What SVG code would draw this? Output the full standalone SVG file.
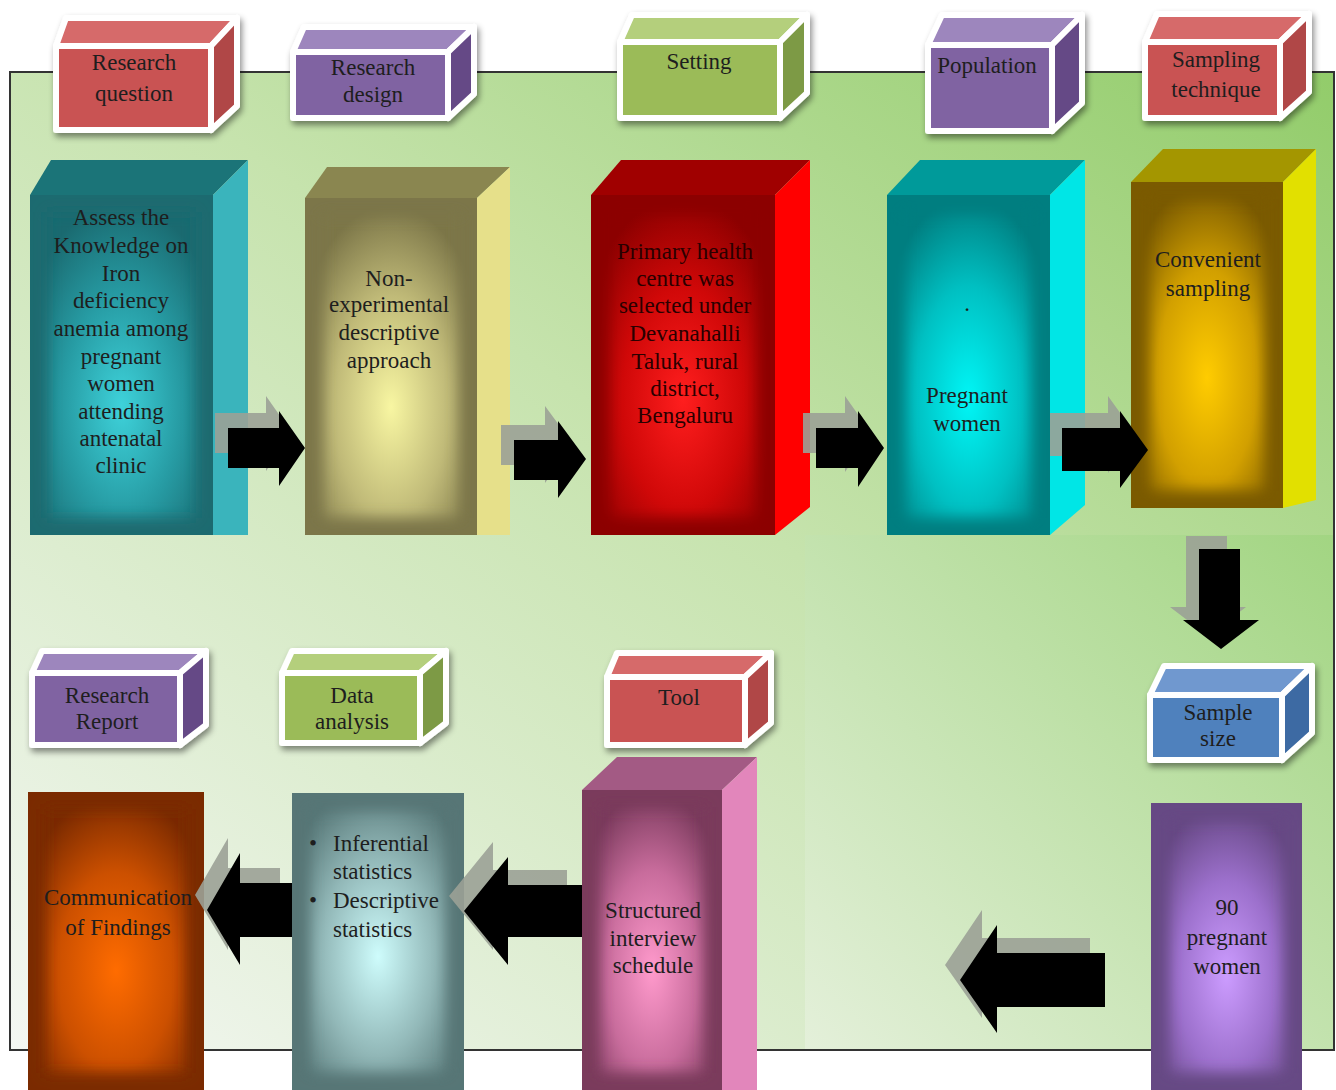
<svg xmlns="http://www.w3.org/2000/svg" width="1336" height="1090" viewBox="0 0 1336 1090">
<defs>
<style>
.t{font-family:"Liberation Serif","Times New Roman",serif;font-size:23px;fill:#1e1e1e;text-anchor:middle}
.tl{font-family:"Liberation Serif","Times New Roman",serif;font-size:23px;fill:#1e1e1e}
.lab polygon,.lab rect{stroke:#fff;stroke-width:6;stroke-linejoin:round}
.arr{fill:#000}
.sha{fill:#9ba196;opacity:0.9}
.bev{fill:none;stroke-width:34;filter:url(#bl)}
</style>
<linearGradient id="bg1" x1="1" y1="0" x2="0" y2="1">
<stop offset="0" stop-color="#92cc6a"/><stop offset="0.45" stop-color="#c6e3ad"/><stop offset="1" stop-color="#f4f7f3"/>
</linearGradient>
<linearGradient id="bg2" x1="1" y1="0" x2="0" y2="1">
<stop offset="0" stop-color="#a2d582"/><stop offset="1" stop-color="#e4f0da"/>
</linearGradient>
<radialGradient id="gTeal" cx="0.5" cy="0.62" r="0.6"><stop offset="0" stop-color="#3ed2da"/><stop offset="0.55" stop-color="#269aa2"/><stop offset="1" stop-color="#1a6a70"/></radialGradient>
<radialGradient id="gOlive" cx="0.5" cy="0.62" r="0.6"><stop offset="0" stop-color="#f8f6a2"/><stop offset="0.55" stop-color="#c0ba78"/><stop offset="1" stop-color="#7c7648"/></radialGradient>
<radialGradient id="gRed" cx="0.5" cy="0.6" r="0.6"><stop offset="0" stop-color="#ff1e1e"/><stop offset="0.55" stop-color="#d00808"/><stop offset="1" stop-color="#8c0000"/></radialGradient>
<radialGradient id="gCyan" cx="0.5" cy="0.6" r="0.6"><stop offset="0" stop-color="#00f6f6"/><stop offset="0.55" stop-color="#00c0c2"/><stop offset="1" stop-color="#007e80"/></radialGradient>
<radialGradient id="gGold" cx="0.5" cy="0.6" r="0.6"><stop offset="0" stop-color="#ffcc00"/><stop offset="0.55" stop-color="#d2a000"/><stop offset="1" stop-color="#7a5a00"/></radialGradient>
<radialGradient id="gPink" cx="0.5" cy="0.6" r="0.6"><stop offset="0" stop-color="#ff9acc"/><stop offset="0.55" stop-color="#c86c9c"/><stop offset="1" stop-color="#7a3a5c"/></radialGradient>
<radialGradient id="gPurp" cx="0.5" cy="0.6" r="0.6"><stop offset="0" stop-color="#cc9cff"/><stop offset="0.55" stop-color="#9c70cc"/><stop offset="1" stop-color="#664884"/></radialGradient>
<radialGradient id="gGray" cx="0.5" cy="0.55" r="0.6"><stop offset="0" stop-color="#cefcfc"/><stop offset="0.55" stop-color="#92b8b8"/><stop offset="1" stop-color="#567676"/></radialGradient>
<radialGradient id="gOrange" cx="0.5" cy="0.6" r="0.6"><stop offset="0" stop-color="#ff6c00"/><stop offset="0.55" stop-color="#cc5000"/><stop offset="1" stop-color="#7a2a00"/></radialGradient>
<filter id="sh" x="-15%" y="-15%" width="140%" height="150%"><feDropShadow dx="2" dy="4" stdDeviation="3" flood-color="#000" flood-opacity="0.45"/></filter>
<filter id="bl" x="-20%" y="-20%" width="140%" height="140%"><feGaussianBlur stdDeviation="7"/></filter>
<clipPath id="c1"><rect x="30" y="195" width="183" height="340"/></clipPath>
<clipPath id="c2"><rect x="305" y="198" width="172" height="337"/></clipPath>
<clipPath id="c3"><rect x="591" y="195" width="184" height="340"/></clipPath>
<clipPath id="c4"><rect x="887" y="195" width="163" height="340"/></clipPath>
<clipPath id="c5"><rect x="1131" y="182" width="152" height="326"/></clipPath>
<clipPath id="c6"><rect x="1151" y="803" width="151" height="287"/></clipPath>
<clipPath id="c7"><rect x="582" y="790" width="140" height="300"/></clipPath>
<clipPath id="c8"><rect x="292" y="793" width="172" height="297"/></clipPath>
<clipPath id="c9"><rect x="28" y="792" width="176" height="298"/></clipPath>
</defs>

<rect width="1336" height="1090" fill="#fff"/>
<g id="background">
<rect x="10" y="72" width="1324" height="978" fill="url(#bg1)"/>
<rect x="805" y="535" width="529" height="515" fill="url(#bg2)"/>
<rect x="10" y="72" width="1324" height="978" fill="none" stroke="#333" stroke-width="2"/>
</g>

<!-- Label cubes -->
<g id="label-research-question" class="lab" filter="url(#sh)">
<polygon points="56,46 66,18 237,18 211,46" fill="#d66a6a"/>
<polygon points="211,46 237,18 237,106 211,130" fill="#b04646"/>
<rect x="56" y="46" width="155" height="84" fill="#c95252"/>
</g>
<text class="t" x="134" y="70">Research</text><text class="t" x="134" y="101">question</text>

<g id="label-research-design" class="lab" filter="url(#sh)">
<polygon points="293,52 304,27 474,27 448,52" fill="#9d86bd"/>
<polygon points="448,52 474,27 474,94 448,118" fill="#654a86"/>
<rect x="293" y="52" width="155" height="66" fill="#8064a2"/>
</g>
<text class="t" x="373" y="75">Research</text><text class="t" x="373" y="102">design</text>

<g id="label-setting" class="lab" filter="url(#sh)">
<polygon points="620,42 632,15 807,15 780,42" fill="#b4cf7c"/>
<polygon points="780,42 807,15 807,93 780,118" fill="#7d9a44"/>
<rect x="620" y="42" width="160" height="76" fill="#9bbb59"/>
</g>
<text class="t" x="699" y="69">Setting</text>

<g id="label-population" class="lab" filter="url(#sh)">
<polygon points="928,45 942,15 1082,15 1052,45" fill="#9d86bd"/>
<polygon points="1052,45 1082,15 1082,103 1052,131" fill="#654a86"/>
<rect x="928" y="45" width="124" height="86" fill="#8064a2"/>
</g>
<text class="t" x="987" y="73">Population</text>

<g id="label-sampling-technique" class="lab" filter="url(#sh)">
<polygon points="1145,42 1157,14 1309,14 1280,42" fill="#d66a6a"/>
<polygon points="1280,42 1309,14 1309,92 1280,118" fill="#b04646"/>
<rect x="1145" y="42" width="135" height="76" fill="#c95252"/>
</g>
<text class="t" x="1216" y="67">Sampling</text><text class="t" x="1216" y="97">technique</text>

<g id="label-research-report" class="lab" filter="url(#sh)">
<polygon points="32,673 42,651 206,651 180,673" fill="#9d86bd"/>
<polygon points="180,673 206,651 206,725 180,745" fill="#654a86"/>
<rect x="32" y="673" width="148" height="72" fill="#8064a2"/>
</g>
<text class="t" x="107" y="703">Research</text><text class="t" x="107" y="729">Report</text>

<g id="label-data-analysis" class="lab" filter="url(#sh)">
<polygon points="282,673 292,651 446,651 420,673" fill="#b4cf7c"/>
<polygon points="420,673 446,651 446,723 420,743" fill="#7d9a44"/>
<rect x="282" y="673" width="138" height="70" fill="#9bbb59"/>
</g>
<text class="t" x="352" y="703">Data</text><text class="t" x="352" y="729">analysis</text>

<g id="label-tool" class="lab" filter="url(#sh)">
<polygon points="607,677 617,653 771,653 745,677" fill="#d66a6a"/>
<polygon points="745,677 771,653 771,723 745,745" fill="#b04646"/>
<rect x="607" y="677" width="138" height="68" fill="#c95252"/>
</g>
<text class="t" x="679" y="705">Tool</text>

<g id="label-sample-size" class="lab" filter="url(#sh)">
<polygon points="1150,695 1164,666 1312,666 1282,695" fill="#6f98cf"/>
<polygon points="1282,695 1312,666 1312,733 1282,760" fill="#3d6aa3"/>
<rect x="1150" y="695" width="132" height="65" fill="#4f81bd"/>
</g>
<text class="t" x="1218" y="720">Sample</text><text class="t" x="1218" y="746">size</text>

<!-- Big boxes -->
<g id="box-research-question">
<polygon points="30,195 51,160 248,160 213,195" fill="#1b7478"/>
<polygon points="213,195 248,160 248,535 213,535" fill="#3ab4bc"/>
<rect x="30" y="195" width="183" height="340" fill="url(#gTeal)"/>
<rect class="bev" clip-path="url(#c1)" x="30" y="195" width="183" height="340" stroke="#1a6a70"/>
<text class="t" x="121" y="225">Assess the</text>
<text class="t" x="121" y="253">Knowledge on</text>
<text class="t" x="121" y="281">Iron</text>
<text class="t" x="121" y="308">deficiency</text>
<text class="t" x="121" y="336">anemia among</text>
<text class="t" x="121" y="364">pregnant</text>
<text class="t" x="121" y="391">women</text>
<text class="t" x="121" y="419">attending</text>
<text class="t" x="121" y="446">antenatal</text>
<text class="t" x="121" y="473">clinic</text>
</g>

<g id="box-research-design">
<polygon points="305,198 327,167 510,167 477,198" fill="#8a8650"/>
<polygon points="477,198 510,167 510,535 477,535" fill="#e6e08a"/>
<rect x="305" y="198" width="172" height="337" fill="url(#gOlive)"/>
<rect class="bev" clip-path="url(#c2)" x="305" y="198" width="172" height="337" stroke="#7c7648"/>
<text class="t" x="389" y="286">Non-</text>
<text class="t" x="389" y="312">experimental</text>
<text class="t" x="389" y="340">descriptive</text>
<text class="t" x="389" y="368">approach</text>
</g>

<g id="box-setting">
<polygon points="591,195 621,160 810,160 775,195" fill="#a00000"/>
<polygon points="775,195 810,160 810,507 775,535" fill="#ff0000"/>
<rect x="591" y="195" width="184" height="340" fill="url(#gRed)"/>
<rect class="bev" clip-path="url(#c3)" x="591" y="195" width="184" height="340" stroke="#8c0000"/>
<text class="t" x="685" y="259" style="fill:#2a0000">Primary health</text>
<text class="t" x="685" y="286" style="fill:#2a0000">centre was</text>
<text class="t" x="685" y="313" style="fill:#2a0000">selected under</text>
<text class="t" x="685" y="341" style="fill:#2a0000">Devanahalli</text>
<text class="t" x="685" y="369" style="fill:#2a0000">Taluk, rural</text>
<text class="t" x="685" y="396" style="fill:#2a0000">district,</text>
<text class="t" x="685" y="423" style="fill:#2a0000">Bengaluru</text>
</g>

<g id="box-population">
<polygon points="887,195 920,160 1085,160 1050,195" fill="#009a9a"/>
<polygon points="1050,195 1085,160 1085,505 1050,535" fill="#00e6e6"/>
<rect x="887" y="195" width="163" height="340" fill="url(#gCyan)"/>
<rect class="bev" clip-path="url(#c4)" x="887" y="195" width="163" height="340" stroke="#007e80"/>
<text class="t" x="967" y="311">.</text>
<text class="t" x="967" y="403">Pregnant</text>
<text class="t" x="967" y="431">women</text>
</g>

<g id="box-sampling-technique">
<polygon points="1131,182 1163,149 1316,149 1283,182" fill="#a49600"/>
<polygon points="1283,182 1316,149 1316,500 1283,508" fill="#e2e000"/>
<rect x="1131" y="182" width="152" height="326" fill="url(#gGold)"/>
<rect class="bev" clip-path="url(#c5)" x="1131" y="182" width="152" height="326" stroke="#7a5a00"/>
<text class="t" x="1208" y="267">Convenient</text>
<text class="t" x="1208" y="296">sampling</text>
</g>

<g id="box-sample-size">
<rect x="1151" y="803" width="151" height="287" fill="url(#gPurp)"/>
<rect class="bev" clip-path="url(#c6)" x="1151" y="803" width="151" height="287" stroke="#664884"/>
<text class="t" x="1227" y="915">90</text>
<text class="t" x="1227" y="945">pregnant</text>
<text class="t" x="1227" y="974">women</text>
</g>

<g id="box-tool">
<polygon points="582,790 617,757 757,757 722,790" fill="#a35a84"/>
<polygon points="722,790 757,757 757,1090 722,1090" fill="#e286bb"/>
<rect x="582" y="790" width="140" height="300" fill="url(#gPink)"/>
<rect class="bev" clip-path="url(#c7)" x="582" y="790" width="140" height="300" stroke="#7a3a5c"/>
<text class="t" x="653" y="918">Structured</text>
<text class="t" x="653" y="946">interview</text>
<text class="t" x="653" y="973">schedule</text>
</g>

<g id="box-data-analysis">
<rect x="292" y="793" width="172" height="297" fill="url(#gGray)"/>
<rect class="bev" clip-path="url(#c8)" x="292" y="793" width="172" height="297" stroke="#567676"/>
<text class="tl" x="309" y="851">•</text><text class="tl" x="333" y="851">Inferential</text>
<text class="tl" x="333" y="879">statistics</text>
<text class="tl" x="309" y="908">•</text><text class="tl" x="333" y="908">Descriptive</text>
<text class="tl" x="333" y="937">statistics</text>
</g>

<g id="box-research-report">
<rect x="28" y="792" width="176" height="298" fill="url(#gOrange)"/>
<rect class="bev" clip-path="url(#c9)" x="28" y="792" width="176" height="298" stroke="#7a2a00"/>
<text class="t" x="118" y="905">Communication</text>
<text class="t" x="118" y="935">of Findings</text>
</g>

<!-- Connectors -->
<g id="connectors">
<path class="sha" transform="translate(-13,-15)" d="M228,428 H279 V411 L305,448 L279,486 V468 H228 Z"/>
<path class="arr" d="M228,428 H279 V411 L305,448 L279,486 V468 H228 Z"/>
<path class="sha" transform="translate(-13,-15)" d="M514,440 H558 V421 L586,459 L558,498 V480 H514 Z"/>
<path class="arr" d="M514,440 H558 V421 L586,459 L558,498 V480 H514 Z"/>
<path class="sha" transform="translate(-13,-15)" d="M816,428 H858 V411 L884,448 L858,487 V468 H816 Z"/>
<path class="arr" d="M816,428 H858 V411 L884,448 L858,487 V468 H816 Z"/>
<path class="sha" transform="translate(-12,-15)" d="M1062,428 H1120 V411 L1148,450 L1120,488 V471 H1062 Z"/>
<path class="arr" d="M1062,428 H1120 V411 L1148,450 L1120,488 V471 H1062 Z"/>
<path class="sha" transform="translate(-13,-13)" d="M1199,549 H1240 V620 H1259 L1221,649 L1183,620 H1199 Z"/>
<path class="arr" d="M1199,549 H1240 V620 H1259 L1221,649 L1183,620 H1199 Z"/>
<path class="sha" transform="translate(-15,-15)" d="M1105,953 H997 V925 L960,980 L997,1033 V1007 H1105 Z"/>
<path class="arr" d="M1105,953 H997 V925 L960,980 L997,1033 V1007 H1105 Z"/>
<path class="sha" transform="translate(-15,-15)" d="M582,885 H508 V857 L464,911 L508,965 V937 H582 Z"/>
<path class="arr" d="M582,885 H508 V857 L464,911 L508,965 V937 H582 Z"/>
<path class="sha" transform="translate(-12,-15)" d="M292,883 H240 V853 L207,910 L240,965 V937 H292 Z"/>
<path class="arr" d="M292,883 H240 V853 L207,910 L240,965 V937 H292 Z"/>
</g>
</svg>
